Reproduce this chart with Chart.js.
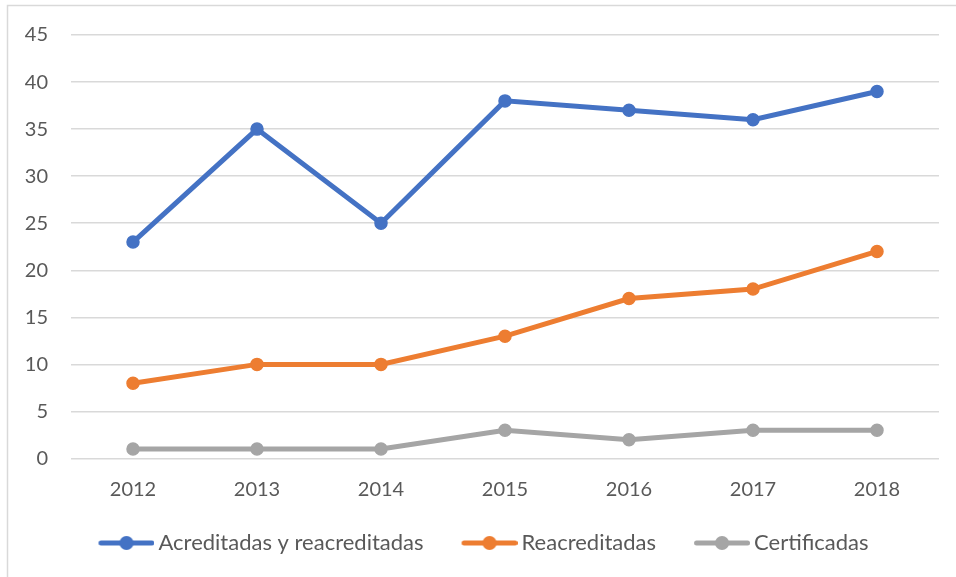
<!DOCTYPE html>
<html>
<head>
<meta charset="utf-8">
<script src="https://cdn.jsdelivr.net/npm/chart.js@4.4.0/dist/chart.umd.min.js"></script>
<style>
html,body{margin:0;padding:0;background:#fff;overflow:hidden;}
#wrap{position:relative;width:956px;height:577px;}
canvas{position:absolute;left:0;top:0;}
</style>
</head>
<body>
<div id="wrap"><canvas id="c" width="956" height="577"></canvas></div>
<script>
const categories = ["2012","2013","2014","2015","2016","2017","2018"];
const acreditadas = [23,35,25,38,37,36,39];
const reacreditadas = [8,10,10,13,17,18,22];
const certificadas = [1,1,1,3,2,3,3];
const seriesNames = ["Acreditadas y reacreditadas","Reacreditadas","Certificadas"];
const colors = ["#4472C4","#ED7D31","#A5A5A5"];

const FONT = "Lato, 'Open Sans', sans-serif";
const TEXT = "#595959";

// legend marker: transparent left margin + line with dot
const LEG_BW = 77, LEG_M = 35;
function marker(color){
  const cv = document.createElement('canvas');
  cv.width = LEG_M + 56; cv.height = 16;
  const g = cv.getContext('2d');
  g.strokeStyle = color; g.lineWidth = 5; g.lineCap = 'round';
  g.beginPath(); g.moveTo(LEG_M + 2.5, 8); g.lineTo(LEG_M + 53.5, 8); g.stroke();
  g.fillStyle = color; g.beginPath(); g.arc(LEG_M + 28, 8, 7, 0, Math.PI*2); g.fill();
  return cv;
}

const borderPlugin = {
  id:'frame',
  beforeDraw(chart){
    const ctx = chart.ctx;
    ctx.save();
    ctx.fillStyle = '#fff';
    ctx.fillRect(0,0,chart.width,chart.height);
    ctx.strokeStyle = '#d9d9d9';
    ctx.lineWidth = 1.5;
    ctx.strokeRect(7.5,5.5,1000,1000);
    ctx.restore();
  }
};

function ds(label, data, color){
  return {label, data, borderColor:color, backgroundColor:color,
    borderWidth:5, pointRadius:6, pointHoverRadius:6, pointBorderWidth:1.5,
    pointBackgroundColor:color, pointBorderColor:color, tension:0, fill:false};
}

function build(){
  new Chart(document.getElementById('c'), {
    type:'line',
    data:{
      labels: categories,
      datasets:[
        ds(seriesNames[0], acreditadas, colors[0]),
        ds(seriesNames[1], reacreditadas, colors[1]),
        ds(seriesNames[2], certificadas, colors[2])
      ]
    },
    options:{
      responsive:false, animation:false, devicePixelRatio:1,
      layout:{autoPadding:false, padding:{top:34,right:17,bottom:13,left:0}},
      plugins:{
        tooltip:{enabled:false},
        legend:{
          position:'bottom',
          labels:{
            font:{family:FONT,size:22}, color:TEXT,
            usePointStyle:true, pointStyleWidth:LEG_BW, boxHeight:16, padding:10,
            generateLabels(chart){
              const items = Chart.defaults.plugins.legend.labels.generateLabels(chart);
              items.forEach((it,i)=>{ it.pointStyle = marker(colors[i]); it.fontColor = TEXT; });
              return items;
            }
          }
        }
      },
      scales:{
        x:{
          offset:true,
          grid:{display:false, drawTicks:false},
          border:{display:false},
          ticks:{font:{family:FONT,size:20}, color:TEXT, padding:19.5, maxRotation:0},
          afterFit(s){ s.height = 63.5; }
        },
        y:{
          min:0,max:45,
          grid:{color:'#d9d9d9', lineWidth:1.5, drawTicks:false},
          border:{display:false},
          ticks:{stepSize:5, font:{family:FONT,size:20}, color:TEXT, padding:23},
          afterFit(s){ s.width = 71; }
        }
      }
    },
    plugins:[borderPlugin]
  });
}
if (document.fonts && document.fonts.load) {
  Promise.all([document.fonts.load("20px Lato"), document.fonts.load("22px Lato")]).then(build, build);
} else build();
</script>
</body>
</html>
